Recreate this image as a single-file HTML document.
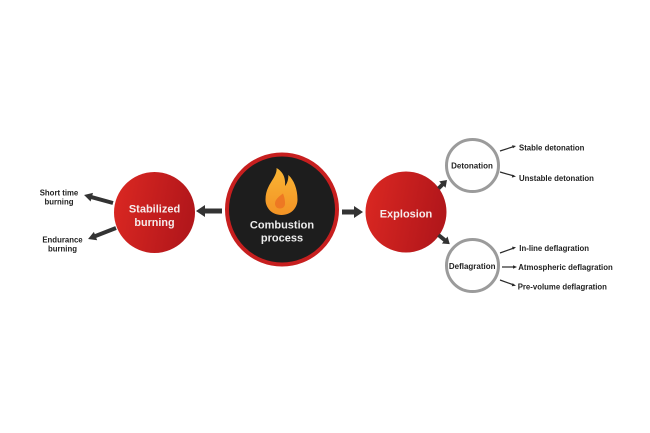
<!DOCTYPE html>
<html>
<head>
<meta charset="utf-8">
<style>
  html,body{margin:0;padding:0;background:#ffffff;}
  body{width:650px;height:433px;overflow:hidden;}
  svg{display:block;}
  text{font-family:"Liberation Sans", Arial, sans-serif;font-weight:bold;}
</style>
</head>
<body>
<svg width="650" height="433" viewBox="0 0 650 433" xmlns="http://www.w3.org/2000/svg">
  <defs>
    <linearGradient id="red" x1="0" y1="0" x2="1" y2="0.2">
      <stop offset="0" stop-color="#dc2822"/>
      <stop offset="1" stop-color="#b3171b"/>
    </linearGradient>
    <linearGradient id="flame" x1="0" y1="0" x2="0" y2="1">
      <stop offset="0" stop-color="#f9b534"/>
      <stop offset="1" stop-color="#f39325"/>
    </linearGradient>
  </defs>
  <rect width="650" height="433" fill="#ffffff"/>

  <!-- Stabilized burning -->
  <circle cx="154.5" cy="212.5" r="40.5" fill="url(#red)"/>
  <text x="154.5" y="212.5" font-size="11" fill="#f5ecec" text-anchor="middle">Stabilized</text>
  <text x="154.5" y="226" font-size="10.8" fill="#f5ecec" text-anchor="middle">burning</text>

  <!-- Combustion process -->
  <circle cx="282" cy="209.5" r="55" fill="#1d1d1d" stroke="#c71f1f" stroke-width="4"/>
  <path d="M281.5,215 C272,215 265.5,208 265.5,199.5 C265.5,190 270,184 273,179 C275.5,175 277,171 276.5,168 C282,171 286,177 285,186 C287.5,183 288.5,179 288.3,175 C294,180 297.5,189 297.5,199.5 C297.5,208 291,215 281.5,215 Z" fill="url(#flame)"/>
  <path d="M280,208.5 C276.5,208.5 275,206 275,203.5 C275,199.5 279,196.5 283,193.5 C284.5,197.5 285,200 285,203.5 C285,206.5 283,208.5 280,208.5 Z" fill="#ee7823"/>
  <text x="282" y="228.5" font-size="11" fill="#ececec" text-anchor="middle">Combustion</text>
  <text x="282" y="241.5" font-size="11" fill="#ececec" text-anchor="middle">process</text>

  <!-- Explosion -->
  <circle cx="406" cy="212" r="40.5" fill="url(#red)"/>
  <text x="406" y="217.3" font-size="11" fill="#f5ecec" text-anchor="middle">Explosion</text>

  <!-- Main arrows -->
  <polygon points="222,208.5 205,208.5 205,205 196,211 205,217 205,213.5 222,213.5" fill="#333333"/>
  <polygon points="342,209.5 354,209.5 354,206 363,212 354,218 354,214.5 342,214.5" fill="#333333"/>

  <!-- Left small arrows -->
  <g transform="translate(113,203) rotate(195.4)">
    <polygon points="0,-2 22,-2 22,-4.5 30,0 22,4.5 22,2 0,2" fill="#333333"/>
  </g>
  <g transform="translate(116,228) rotate(158.6)">
    <polygon points="0,-2 22,-2 22,-4.5 30,0 22,4.5 22,2 0,2" fill="#333333"/>
  </g>

  <!-- Left labels -->
  <text x="59" y="195.3" font-size="7.8" fill="#222" text-anchor="middle">Short time</text>
  <text x="59" y="204.5" font-size="7.8" fill="#222" text-anchor="middle">burning</text>
  <text x="62.5" y="242.5" font-size="7.8" fill="#222" text-anchor="middle">Endurance</text>
  <text x="62.5" y="251.5" font-size="7.8" fill="#222" text-anchor="middle">burning</text>

  <!-- Right small arrows -->
  <g transform="translate(438.5,188.5) rotate(-45)">
    <polygon points="0,-2 5.5,-2 5.5,-4.5 12,0 5.5,4.5 5.5,2 0,2" fill="#333333"/>
  </g>
  <g transform="translate(438.5,235) rotate(39)">
    <polygon points="0,-2 8,-2 8,-4.5 14.5,0 8,4.5 8,2 0,2" fill="#333333"/>
  </g>

  <!-- Detonation / Deflagration circles -->
  <circle cx="472.5" cy="165.5" r="26" fill="#ffffff" stroke="#9b9b9b" stroke-width="3"/>
  <text x="472" y="168.5" font-size="8" fill="#222" text-anchor="middle">Detonation</text>
  <circle cx="472.5" cy="265.5" r="26" fill="#ffffff" stroke="#9b9b9b" stroke-width="3"/>
  <text x="472.2" y="269" font-size="8" fill="#222" text-anchor="middle">Deflagration</text>

  <!-- Connector lines -->
  <g stroke="#2a2a2a" stroke-width="1.2" fill="none">
    <line x1="500" y1="151" x2="514" y2="146.5"/>
    <line x1="500" y1="172" x2="514" y2="176"/>
    <line x1="500" y1="253" x2="514" y2="248"/>
    <line x1="502" y1="267" x2="515" y2="267"/>
    <line x1="500" y1="280" x2="514" y2="285"/>
  </g>
  <g fill="#2a2a2a">
    <polygon points="516,146 512,145.2 513,148.3"/>
    <polygon points="516,176.5 512.5,174.6 511.8,177.6"/>
    <polygon points="516,247.3 512,246.6 513,249.6"/>
    <polygon points="517,267 513,265.3 513,268.7"/>
    <polygon points="516,285.7 512.7,283.3 511.7,286.3"/>
  </g>

  <!-- Right labels -->
  <text x="519" y="150.5" font-size="7.8" fill="#222">Stable detonation</text>
  <text x="519" y="180.8" font-size="7.8" fill="#222">Unstable detonation</text>
  <text x="519.3" y="251" font-size="7.8" fill="#222">In-line deflagration</text>
  <text x="518.3" y="270" font-size="7.8" fill="#222">Atmospheric deflagration</text>
  <text x="517.7" y="289.5" font-size="7.8" fill="#222">Pre-volume deflagration</text>
</svg>
</body>
</html>
